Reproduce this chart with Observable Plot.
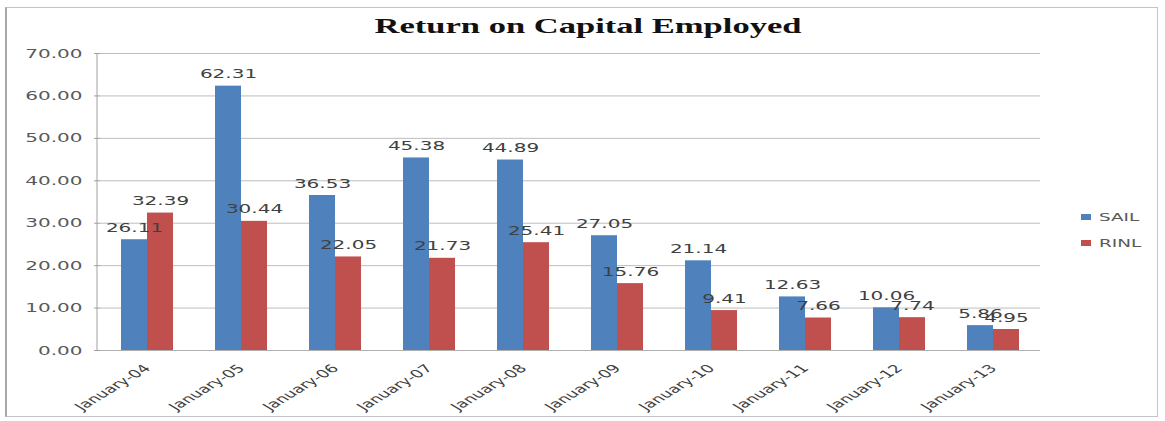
<!DOCTYPE html>
<html>
<head>
<meta charset="utf-8">
<script src="https://cdn.jsdelivr.net/npm/d3@7"></script>
<script src="https://cdn.jsdelivr.net/npm/@observablehq/plot@0.6"></script>
<style>
  html, body { margin: 0; padding: 0; background: #fff; }
  #wrap { position: relative; width: 1165px; height: 421px; overflow: hidden; background: #fff; }
  #frame { position: absolute; left: 5px; top: 7px; width: 1153px; height: 410px; border: 1px solid #c4c4c4; border-left: 2px solid #a8a8a8; box-sizing: border-box; }
  #chart { position: absolute; left: 0; top: 0; }
  #title { position: absolute; left: 0; top: 0; }
  #legend { position: absolute; left: 0; top: 0; }
</style>
</head>
<body>
<div id="wrap">
  <div id="frame"></div>
  <div id="chart"></div>
  <svg id="title" width="1165" height="45"></svg>
  <svg id="legend" width="1165" height="421" style="pointer-events:none"></svg>
</div>
<script>
// ---- data ----
const titleText = "Return on Capital Employed";
const categories = ["January-04","January-05","January-06","January-07","January-08","January-09","January-10","January-11","January-12","January-13"];
const series = ["SAIL", "RINL"];
const colors = ["#4F81BD", "#C0504D"];
const sail = [26.11, 62.31, 36.53, 45.38, 44.89, 27.05, 21.14, 12.63, 10.06, 5.86];
const rinl = [32.39, 30.44, 22.05, 21.73, 25.41, 15.76, 9.41, 7.66, 7.74, 4.95];
const yTicks = [0, 10, 20, 30, 40, 50, 60, 70];

const data = [];
categories.forEach((c, i) => {
  data.push({cat: c, series: "SAIL", value: sail[i]});
  data.push({cat: c, series: "RINL", value: rinl[i]});
});

const SX = 1.6; // horizontal stretch of the reference text
const fmt = d3.format(".2f");

const plot = Plot.plot({
  width: 1165,
  height: 421,
  marginLeft: 97,
  marginRight: 122,
  marginTop: 53,
  marginBottom: 71,
  style: {fontFamily: "DejaVu Sans", background: "transparent"},
  fx: {domain: categories, padding: 0, label: null, axis: null},
  x: {domain: series, paddingInner: 0, paddingOuter: 0.78, axis: null},
  y: {domain: [0, 70], ticks: yTicks, label: null, axis: null},
  color: {domain: series, range: colors},
  marks: [
    Plot.gridY(yTicks, {stroke: "#bdbdbd", strokeOpacity: 1}),
    Plot.barY(data, {fx: "cat", x: "series", y: "value", fill: "series"}),
    Plot.ruleY([0], {stroke: "#b0b0b0"}),
    Plot.text(data, {fx: "cat", x: "series", y: "value", text: d => fmt(d.value), dy: -12, fill: "#404040", fontSize: 12.5}),
    Plot.axisY(yTicks, {anchor: "left", tickFormat: fmt, tickSize: 6, tickPadding: 12, stroke: "#a0a0a0", fill: "#595959", fontSize: 12.5, label: null}),
    Plot.axisFx({anchor: "bottom", tickRotate: -45, tickSize: 0, tickPadding: 16, fill: "#404040", fontSize: 11, label: null})
  ]
});

document.getElementById("chart").appendChild(plot);

// y-axis line using the plot's scales
const ysc = plot.scale("y");
const svg = d3.select(plot.tagName.toLowerCase() === "svg" ? plot : plot.querySelector("svg"));
svg.append("line")
  .attr("x1", 97).attr("x2", 97)
  .attr("y1", ysc.range[0]).attr("y2", ysc.range[1])
  .attr("stroke", "#a0a0a0");

// stretch text horizontally like the reference
svg.selectAll("text").each(function() {
  const el = d3.select(this);
  const g = this.closest("g[aria-label]");
  const isFx = g && /fx-axis/.test(g.getAttribute("aria-label"));
  const s = isFx ? 1.65 : SX;
  let t = el.attr("transform");
  if (t && /^translate\([^)]*\)/.test(t)) {
    el.attr("transform", t.replace(/^(translate\([^)]*\))/, `$1 scale(${s},1)`));
  } else {
    const x = +el.attr("x") || 0, y = +el.attr("y") || 0;
    if (el.attr("x") !== null && !String(el.attr("y") || "").includes("em")) {
      el.attr("x", null).attr("y", null);
      el.attr("transform", `translate(${x},${y}) scale(${s},1)` + (t ? " " + t : ""));
    }
  }
});

// title
d3.select("#title").append("text")
  .attr("x", 588).attr("y", 33)
  .attr("text-anchor", "middle")
  .attr("font-family", "Liberation Serif")
  .attr("font-weight", "bold")
  .attr("font-size", 22)
  .attr("fill", "#111")
  .attr("textLength", 427)
  .attr("lengthAdjust", "spacingAndGlyphs")
  .text(titleText);

// legend
const lg = d3.select("#legend");
series.forEach((s, i) => {
  const cy = 217 + i * 26;
  lg.append("rect").attr("x", 1081).attr("y", cy - 3).attr("width", 10).attr("height", 6).attr("fill", colors[i]);
  lg.append("text").attr("transform", `translate(1099,${cy}) scale(1.75,1)`)
    .attr("dy", "0.35em").attr("font-family", "DejaVu Sans").attr("font-size", 10.5)
    .attr("fill", "#595959").text(s);
});
</script>
</body>
</html>
